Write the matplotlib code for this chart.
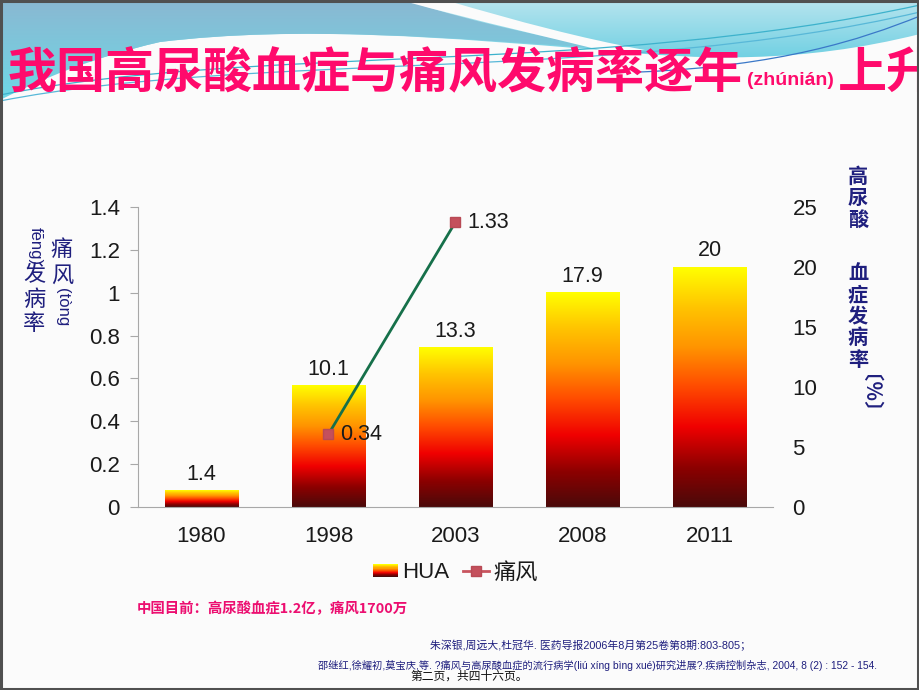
import numpy as np
import matplotlib.pyplot as plt
from matplotlib.colors import LinearSegmentedColormap, to_rgb
from matplotlib.patches import Rectangle, PathPatch
from matplotlib.path import Path
from matplotlib.lines import Line2D
from matplotlib.legend_handler import HandlerBase

plt.rcParams['font.family'] = ['Liberation Sans', 'Noto Sans CJK SC', 'DejaVu Sans']

# data
years = ['1980', '1998', '2003', '2008', '2011']
hua = [1.4, 10.1, 13.3, 17.9, 20]          # right axis, %
gout_years = ['1998', '2003']
gout = [0.34, 1.33]                          # left axis, %
left_ticks = [0, 0.2, 0.4, 0.6, 0.8, 1, 1.2, 1.4]
left_tick_labels = ['0', '0.2', '0.4', '0.6', '0.8', '1', '1.2', '1.4']
right_ticks = [0, 5, 10, 15, 20, 25]

navy = '#1F1F7E'
pink = '#FF0A6C'
cmap = LinearSegmentedColormap.from_list(
    'hua', ['#4A0A0A', '#8E0000', '#F00000', '#FF4A00', '#FF9400', '#FFC400', '#FFFF00'])

fig = plt.figure(figsize=(9.2, 6.9), dpi=100)
fig.patch.set_facecolor('#FBFBFB')

# background layer in pixel coordinates (y down)
bg = fig.add_axes([0, 0, 1, 1])
bg.set_xlim(0, 920)
bg.set_ylim(690, 0)
bg.axis('off')
bg.patch.set_visible(False)


def grad_patch(verts, codes, top, bottom, y0, y1):
    p = PathPatch(Path(verts, codes), facecolor='none', edgecolor='none')
    bg.add_patch(p)
    t, b = np.array(to_rgb(top)), np.array(to_rgb(bottom))
    s = np.linspace(0, 1, 64)[:, None, None]
    img = (1 - s) * t + s * b
    img = np.repeat(img, 2, axis=1)
    im = bg.imshow(img, extent=(0, 920, y1, y0), origin='upper', aspect='auto', zorder=0)
    im.set_clip_path(p)


M, L, C, Z = Path.MOVETO, Path.LINETO, Path.CURVE4, Path.CLOSEPOLY
# light cyan header
grad_patch([(0, 0), (920, 0), (920, 34), (800, 64), (700, 60), (600, 50),
            (450, 38), (300, 25), (160, 42), (90, 58), (40, 80), (0, 100), (0, 0)],
           [M, L, L, C, C, C, C, C, C, C, C, C, Z], '#B6E4EE', '#6CCFE2', 0, 62)
# steel blue swoosh on the left
grad_patch([(0, 0), (405, 0), (480, 25), (560, 40), (610, 49),
            (450, 38), (300, 25), (160, 42), (90, 58), (40, 80), (0, 100), (0, 0)],
           [M, L, C, C, C, C, C, C, C, C, C, Z], '#8AB8D2', '#6ED8E6', 0, 100)
# white streak
bg.add_patch(PathPatch(Path([(400, 0), (445, 0), (520, 22), (580, 38), (645, 50),
                             (600, 50), (560, 40), (480, 22), (400, 0), (400, 0)],
                            [M, L, C, C, C, L, C, C, C, Z]),
                       facecolor='#FBFBFB', edgecolor='none', zorder=0.5))
for (p0, p1, p2, p3), col in [(((0, 95), (250, 45), (600, 75), (920, 5)), '#3DB2CC'),
                              (((0, 101), (250, 52), (620, 82), (920, 12)), '#58B8D8'),
                              (((640, 72), (780, 66), (860, 40), (920, 16)), '#3A78C8')]:
    bg.add_patch(PathPatch(Path([p0, p1, p2, p3], [M, C, C, C]), facecolor='none',
                           edgecolor=col, lw=0.9, zorder=0.6))

# title
t1 = bg.text(8, 73, '我国高尿酸血症与痛风发病率逐年', fontsize=35.3, weight='black',
             color=pink, va='center', ha='left', family=['Noto Sans CJK SC'])
t2 = bg.annotate('(zhúnián)', xy=(1, 0.18), xycoords=t1, xytext=(3, 0),
                 textcoords='offset points', va='bottom', ha='left',
                 fontsize=14, weight='bold', color=pink, family=['Liberation Sans'])
bg.annotate('上升', xy=(1, 0.5), xycoords=(t2, t1), xytext=(3, 0),
            textcoords='offset points', va='center', ha='left', fontsize=35.3,
            weight='black', color=pink, family=['Noto Sans CJK SC'])

# chart
ax = fig.add_axes([138 / 920, 1 - 507 / 690, 635 / 920, 300 / 690])
ax2 = ax.twinx()
x = np.arange(len(years))
bars = ax2.bar(x, hua, width=0.575, color='none', edgecolor='none')
grad = np.linspace(0, 1, 256).reshape(-1, 1)
for b in bars:
    x0, w, h = b.get_x(), b.get_width(), b.get_height()
    ax2.imshow(grad, extent=(x0, x0 + w, 0, h), origin='lower', cmap=cmap,
               aspect='auto', zorder=1)
ax2.bar_label(bars, fmt='%g', padding=4, fontsize=15.5, color='#1A1A1A')

gx = [years.index(y) for y in gout_years]
ax.plot(gx, gout, color='#16704A', lw=2, marker='s', ms=6.5,
        mfc='#C4505C', mec='#B84A55', zorder=5)
for xi, v in zip(gx, gout):
    ax.annotate(f'{v:.2f}', (xi, v), xytext=(8.5, 0), textcoords='offset points',
                va='center', ha='left', fontsize=15.5, color='#1A1A1A')

ax.set_zorder(ax2.get_zorder() + 1)
ax.patch.set_visible(False)
ax.set_xlim(-0.5, len(years) - 0.5)
ax.set_ylim(0, 1.4)
ax2.set_ylim(0, 25)
ax.set_xticks(x, years)
ax.set_yticks(left_ticks, left_tick_labels)
ax2.set_yticks(right_ticks)
ax.tick_params(axis='x', length=0, pad=14, labelsize=16, labelcolor='#1A1A1A')
ax.tick_params(axis='y', length=6, color='#A8A8A8', pad=7, labelsize=16, labelcolor='#1A1A1A')
ax2.tick_params(axis='y', length=0, pad=14, labelsize=16, labelcolor='#1A1A1A')
for s in ['top', 'right']:
    ax.spines[s].set_visible(False)
for s in ['left', 'bottom']:
    ax.spines[s].set_color('#A8A8A8')
for s in ax2.spines.values():
    s.set_visible(False)

# axis titles written vertically
for ch, yy in [('痛', 251), ('风', 276)]:
    bg.text(62, yy, ch, fontsize=16, color=navy, ha='center', va='center')
bg.text(62, 307, '(tòng', fontsize=12, rotation=-90, color=navy, ha='center', va='center')
bg.text(35, 246, 'fēng)', fontsize=12, rotation=-90, color=navy, ha='center', va='center')
for ch, yy in [('发', 276), ('病', 300), ('率', 325)]:
    bg.text(34, yy, ch, fontsize=16, color=navy, ha='center', va='center')

for i, ch in enumerate('高尿酸'):
    bg.text(858, 177 + i * 21.5, ch, fontsize=14.5, weight='bold', color=navy,
            ha='center', va='center')
for i, ch in enumerate('血症发病率'):
    bg.text(858, 274 + i * 21.5, ch, fontsize=14.5, weight='bold', color=navy,
            ha='center', va='center')
bg.text(858, 404, '〔％〕', fontsize=14.5, weight='bold', rotation=-90, color=navy,
        ha='center', va='center')


# legend with a gradient swatch
class GradientHandler(HandlerBase):
    def create_artists(self, legend, orig_handle, xdescent, ydescent, width, height,
                       fontsize, trans):
        n = 24
        return [Rectangle((-xdescent, -ydescent + height * i / n), width, height / n * 1.05,
                          facecolor=cmap(i / (n - 1)), lw=0, transform=trans)
                for i in range(n)]


handles = [Rectangle((0, 0), 1, 1),
           Line2D([], [], color='#C8545E', lw=2, marker='s', ms=6.5,
                  mfc='#C4505C', mec='#B84A55')]
leg = fig.legend(handles, ['HUA', '痛风'], loc='center', bbox_to_anchor=(455 / 920, 1 - 573 / 690),
                 ncol=2, frameon=False, fontsize=16, handlelength=1.15, handleheight=0.5,
                 handletextpad=0.2, columnspacing=0.6, numpoints=1,
                 handler_map={Rectangle: GradientHandler()})
for t in leg.get_texts():
    t.set_color('#1A1A1A')

# notes
bg.text(137, 609, '中国目前：高尿酸血症1.2亿，痛风1700万', fontsize=10.4, weight='bold',
        color='#EC0E70', ha='left', va='center', family=['Noto Sans CJK SC', 'DejaVu Sans'])
bg.text(430, 645, '朱深银,周远大,杜冠华. 医药导报2006年8月第25卷第8期:803-805；',
        fontsize=7.8, color=navy, ha='left', va='center')
bg.text(318, 665, '邵继红,徐耀初,莫宝庆,等. ?痛风与高尿酸血症的流行病学(liú xíng bìng xué)研究进展?.'
        '疾病控制杂志, 2004, 8 (2) : 152 - 154.',
        fontsize=7.35, color=navy, ha='left', va='center')
bg.text(410, 677, '第二页，共四十六页。', fontsize=8.5, color='#111111', ha='left', va='center')

# slide frame
bg.add_patch(Rectangle((0.5, 0.5), 918, 688, fill=False, edgecolor='#505050', lw=2.2, zorder=3))

fig.savefig('out.png', dpi=100, facecolor=fig.get_facecolor())
